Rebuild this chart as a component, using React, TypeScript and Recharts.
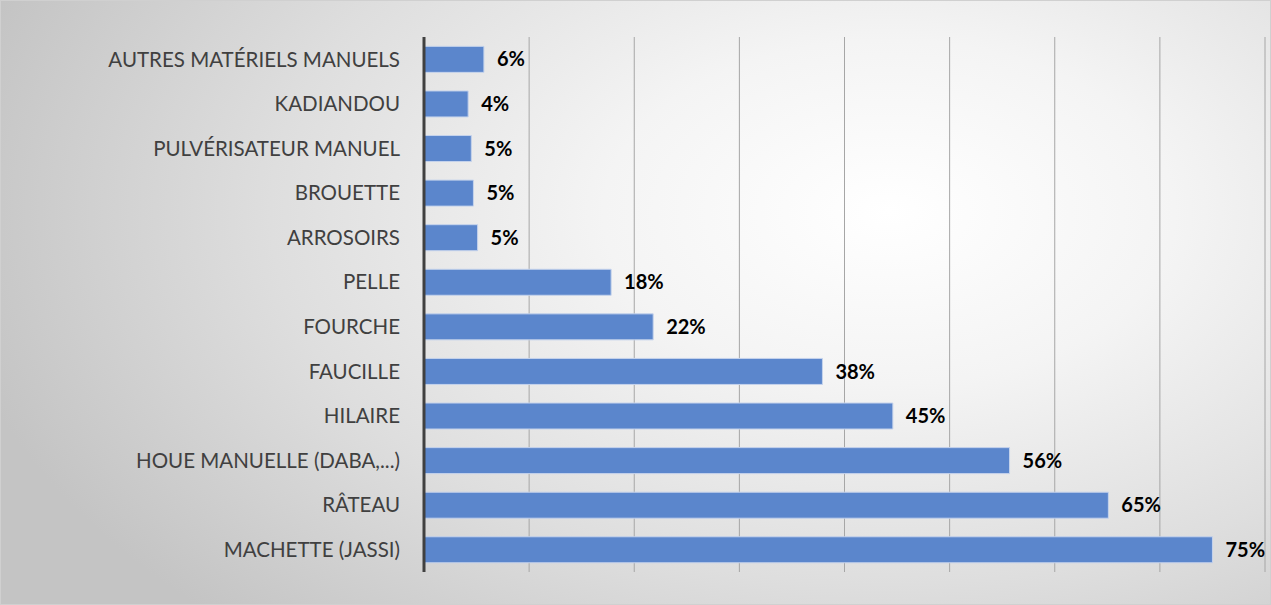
import { BarChart, Bar, XAxis, YAxis, CartesianGrid, LabelList } from 'recharts'

// categories top to bottom, share of respondents (%)
const categories = [
    'AUTRES MATÉRIELS MANUELS',
    'KADIANDOU',
    'PULVÉRISATEUR MANUEL',
    'BROUETTE',
    'ARROSOIRS',
    'PELLE',
    'FOURCHE',
    'FAUCILLE',
    'HILAIRE',
    'HOUE MANUELLE (DABA,...)',
    'RÂTEAU',
    'MACHETTE (JASSI)',
]
const shares = [5.7, 4.2, 4.5, 4.7, 5.1, 17.8, 21.8, 37.9, 44.6, 55.7, 65.1, 75.0]
const xTicks = [0, 10, 20, 30, 40, 50, 60, 70, 80]

const data = categories.map((name, i) => ({ name, value: shares[i] }))

const font = 'Lato, "Open Sans", sans-serif'

export default function App() {
    return (
        <div
            style={{
                position: 'absolute',
                left: 0,
                top: 0,
                width: 1269,
                height: 603,
                border: '1px solid #d0d0d0',
                background: 'radial-gradient(ellipse 75% 95% at 70% 35%, #ffffff 0%, #f4f4f4 30%, #dedede 65%, #c4c4c4 100%)',
                fontFamily: font,
            }}
        >
            <BarChart
                width={1269}
                height={603}
                data={data}
                layout="vertical"
                margin={{ top: 36, right: 5, bottom: 32, left: 0 }}
                barCategoryGap="21%"
            >
                <CartesianGrid horizontal={false} stroke="#a6a6a6" strokeWidth={1} />
                <XAxis
                    type="number"
                    domain={[0, 80]}
                    ticks={xTicks}
                    tick={() => <g />}
                    axisLine={false}
                    tickLine={false}
                    height={0}
                />
                <YAxis
                    type="category"
                    dataKey="name"
                    width={423}
                    axisLine={{ stroke: '#404040', strokeWidth: 3 }}
                    tickLine={false}
                    tickMargin={18}
                    tick={{ fontSize: 20.5, fill: '#404040', fontFamily: font }}
                    interval={0}
                />
                <Bar
                    dataKey="value"
                    fill="#5b86cc"
                    stroke="#c5d3ec"
                    strokeWidth={1}
                    isAnimationActive={false}
                >
                    <LabelList
                        dataKey="value"
                        position="right"
                        offset={13}
                        formatter={(v: any) => `${Math.round(Number(v))}%`}
                        style={{ fontSize: 20, fontWeight: 700, fill: '#000000', fontFamily: font }}
                    />
                </Bar>
            </BarChart>
        </div>
    )
}
